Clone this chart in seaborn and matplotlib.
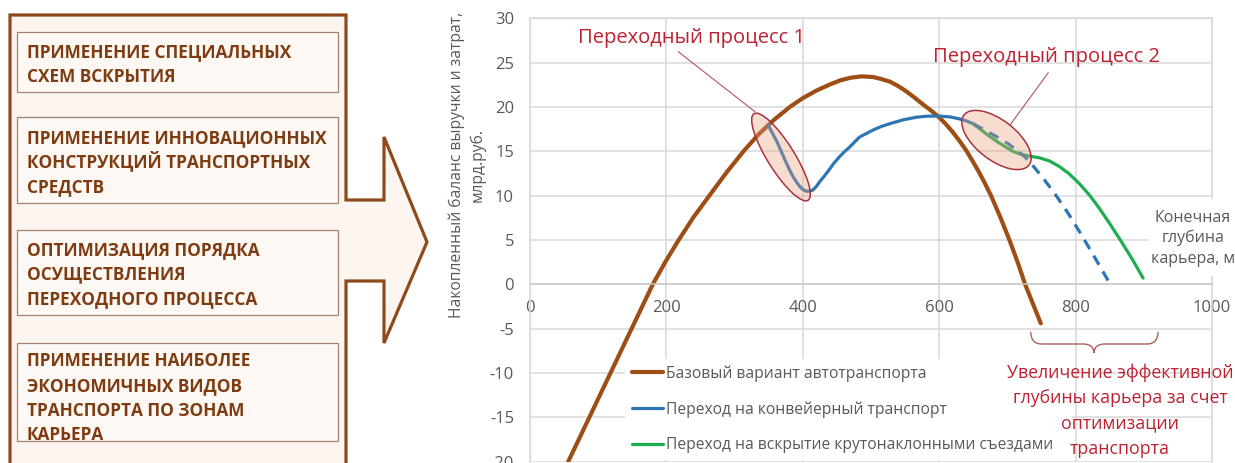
import matplotlib
matplotlib.use("Agg")
import matplotlib.pyplot as plt
import matplotlib.patches as mpatches
import matplotlib.transforms as mtransforms
from matplotlib.path import Path
from matplotlib.font_manager import FontProperties
import seaborn as sns
import pandas as pd

# ---------------- data ----------------
depth_base = [56, 87, 118, 149, 180, 199, 218, 240, 263, 288, 313, 335, 357, 381, 400,
              420, 440, 455, 470, 486, 503, 515, 528, 540, 552, 564, 576, 588, 599, 610,
              620, 630, 640, 649, 658, 667, 676, 690, 703, 715, 726, 738, 749]
balance_base = [-20.0, -15.0, -10.0, -5.0, 0.0, 2.6, 5.0, 7.6, 10.0, 12.6, 15.0, 16.9,
                18.5, 20.0, 21.0, 21.85, 22.55, 23.0, 23.3, 23.45, 23.38, 23.15, 22.85,
                22.35, 21.75, 21.05, 20.3, 19.6, 18.9, 18.05, 17.15, 16.15, 15.05, 13.9,
                12.7, 11.4, 10.0, 7.5, 5.0, 2.5, 0.0, -2.3, -4.4]

depth_conv = [349, 355, 362, 368, 374, 380, 386, 391, 396, 400, 405, 410, 415, 420, 425,
              431, 437, 445, 454, 461, 469, 476, 483, 493, 503, 515, 527, 547, 567, 584,
              601, 616, 630, 640, 650]
balance_conv = [18.0, 17.1, 16.1, 15.05, 14.0, 13.0, 12.1, 11.5, 11.0, 10.7, 10.5, 10.5,
                10.65, 11.05, 11.6, 12.15, 12.75, 13.6, 14.4, 14.95, 15.5, 16.05, 16.6,
                17.0, 17.4, 17.8, 18.1, 18.55, 18.85, 18.97, 18.97, 18.88, 18.65, 18.42,
                18.1]

depth_conv_cont = [650, 662, 675, 689, 702, 714, 724, 733, 742, 750, 761, 772, 790, 806,
                   823, 840, 849]
balance_conv_cont = [18.1, 17.6, 17.05, 16.45, 15.8, 15.1, 14.5, 13.8, 12.95, 12.2, 11.1,
                     9.95, 7.9, 5.9, 3.7, 1.45, 0.25]

depth_steep = [650, 660, 672, 684, 696, 708, 720, 733, 748, 762, 776, 790, 805, 820, 835,
               850, 866, 883, 899]
balance_steep = [18.1, 17.5, 16.8, 16.15, 15.55, 15.0, 14.65, 14.45, 14.25, 13.9, 13.3,
                 12.5, 11.4, 10.1, 8.55, 6.85, 4.95, 2.85, 0.7]

x_ticks = [0, 200, 400, 600, 800, 1000]
y_ticks = [-20, -15, -10, -5, 0, 5, 10, 15, 20, 25, 30]

legend_labels = ["Базовый вариант автотранспорта",
                 "Переход на конвейерный транспорт",
                 "Переход на вскрытие крутонаклонными съездами"]

y_label = "Накопленный баланс выручки и затрат,\nмлрд.руб."
x_label_lines = ["Конечная", "глубина", "карьера, м"]
process1_text = "Переходный процесс 1"
process2_text = "Переходный процесс 2"
increase_lines = ["Увеличение эффективной", "глубины карьера за счет",
                  "оптимизации", "транспорта"]

left_boxes = [["ПРИМЕНЕНИЕ СПЕЦИАЛЬНЫХ", "СХЕМ ВСКРЫТИЯ"],
              ["ПРИМЕНЕНИЕ ИННОВАЦИОННЫХ", "КОНСТРУКЦИЙ ТРАНСПОРТНЫХ", "СРЕДСТВ"],
              ["ОПТИМИЗАЦИЯ ПОРЯДКА", "ОСУЩЕСТВЛЕНИЯ", "ПЕРЕХОДНОГО ПРОЦЕССА"],
              ["ПРИМЕНЕНИЕ НАИБОЛЕЕ", "ЭКОНОМИЧНЫХ ВИДОВ", "ТРАНСПОРТА ПО ЗОНАМ",
               "КАРЬЕРА"]]

# ---------------- style ----------------
BROWN = "#9E4E14"
BLUE = "#2E75B6"
GREEN = "#1DAE50"
RED = "#BE2030"
GRAY_TXT = "#595959"
GRID = "#D9D9D9"
PANEL_EDGE = "#8E4A1B"
PANEL_FILL = "#FDF5EF"
BOX_EDGE = "#A58370"
BOX_TXT = "#7E3C12"
ANN = "#B0555E"

W, H, DPI = 1235, 463, 100
sns.set_theme(style="white")
FONT = ["Open Sans", "DejaVu Sans"]
plt.rcParams["font.family"] = FONT
plt.rcParams["axes.unicode_minus"] = False

fig = plt.figure(figsize=(W / DPI, H / DPI), dpi=DPI, facecolor="white")
renderer = fig.canvas.get_renderer()


def metrics(s, size, weight="normal"):
    fp = FontProperties(family=FONT, size=size, weight=weight)
    return renderer.get_text_width_height_descent(s, fp, ismath=False)


def fit(s, target_px, weight="normal"):
    return 20 * target_px / metrics(s, 20, weight)[0]


def fx(px):
    return px / W


def fy(py):
    return 1 - py / H


# main axes geometry in pixels
AX_L, AX_R, AX_T, AX_B = 530, 1212, 18.3, 461.7


def X(px):
    return (px - AX_L) / (AX_R - AX_L) * 1000


def Y(py):
    return 30 - (py - AX_T) / (AX_B - AX_T) * 50


# ---------------- left panel ----------------
axp = fig.add_axes([0, 0, 1, 1])
axp.set_zorder(-1)
axp.set_xlim(0, W)
axp.set_ylim(H, 0)
axp.axis("off")
outline = [(10, 15), (346, 15), (346, 200), (384, 200), (384, 137), (427, 242),
           (384, 343), (384, 281), (346, 281), (346, 490), (10, 490)]
axp.add_patch(mpatches.Polygon(outline, closed=True, fc=PANEL_FILL, ec=PANEL_EDGE,
                               lw=2.3, joinstyle="miter"))
box_tops = [32.3, 117.3, 230.0, 342.7]
box_bottoms = [91.7, 202.7, 315.0, 440.7]
first_baselines = [57.5, 143.0, 255.0, 366.5]
line_step = 24.6
fs_left = fit("ПРИМЕНЕНИЕ ИННОВАЦИОННЫХ", 301.5, "bold")
for lines, t, b, bl in zip(left_boxes, box_tops, box_bottoms, first_baselines):
    axp.add_patch(mpatches.Rectangle((17, t), 321, b - t, fc="#FEF8F4", ec=BOX_EDGE, lw=0.9))
    for i, s in enumerate(lines):
        axp.text(27, bl + i * line_step, s, fontsize=fs_left, fontweight="bold",
                 color=BOX_TXT, ha="left", va="baseline")

# ---------------- main chart ----------------
ax = fig.add_axes([fx(AX_L), fy(AX_B), (AX_R - AX_L) / W, (AX_B - AX_T) / H])
ax.set_facecolor("white")

df_base = pd.DataFrame({"depth": depth_base, "balance": balance_base})
df_conv = pd.DataFrame({"depth": depth_conv, "balance": balance_conv})
df_cont = pd.DataFrame({"depth": depth_conv_cont, "balance": balance_conv_cont})
df_steep = pd.DataFrame({"depth": depth_steep, "balance": balance_steep})

sns.lineplot(data=df_base, x="depth", y="balance", ax=ax, color=BROWN, linewidth=3.0,
             estimator=None, sort=False, legend=False)
h_base = ax.lines[-1]
sns.lineplot(data=df_conv, x="depth", y="balance", ax=ax, color=BLUE, linewidth=2.3,
             estimator=None, sort=False, legend=False)
h_conv = ax.lines[-1]
sns.lineplot(data=df_steep, x="depth", y="balance", ax=ax, color=GREEN, linewidth=2.3,
             estimator=None, sort=False, legend=False)
h_steep = ax.lines[-1]
sns.lineplot(data=df_cont, x="depth", y="balance", ax=ax, color=BLUE, linewidth=2.3,
             estimator=None, sort=False, legend=False, linestyle=(0, (3.3, 2.4)))
for ln in ax.lines:
    ln.set_solid_joinstyle("round")
    ln.set_solid_capstyle("round")

ax.set_xticks(x_ticks)
ax.set_yticks(y_ticks)
ax.set_xticklabels([str(v) for v in x_ticks])
ax.set_yticklabels([str(v) for v in y_ticks])
ax.grid(True, color=GRID, linewidth=1.1)
ax.set_axisbelow(True)
for sp in ax.spines.values():
    sp.set_color(GRID)
    sp.set_linewidth(1.1)
ax.spines["bottom"].set_position(("data", 0))
ax.spines["bottom"].set_color("#CACACA")
ax.tick_params(length=0, labelsize=12, labelcolor=GRAY_TXT, pad=11.5)
ax.set_xlabel("")

# y label (two lines, rotated)
fs_yl = fit("Накопленный баланс выручки и затрат,", 304)
w1, h1, d1 = metrics("Накопленный баланс выручки и затрат,", fs_yl)
_, hlp, dlp = metrics("lp", fs_yl)
ls_yl = (20.6 - max(d1, dlp)) / (hlp - dlp)
ax.set_ylabel(y_label, fontsize=fs_yl, color=GRAY_TXT, linespacing=ls_yl)
ax.yaxis.label.set_va("center")
ax.yaxis.set_label_coords((467 - AX_L) / (AX_R - AX_L), (AX_B - 165) / (AX_B - AX_T))

# legend
leg_fs = fit(legend_labels[2], 387)
fs_px = leg_fs * DPI / 72
_, hl_, dl_ = metrics(legend_labels[2], leg_fs)
_, hlp2, dlp2 = metrics("lp", leg_fs)
h_row = max(hl_, hlp2)
top_px = 373.3 - 6.7 - h_row / 2
leg = ax.legend(handles=[h_base, h_conv, h_steep], labels=legend_labels,
                loc="upper left",
                bbox_to_anchor=((625 - AX_L) / (AX_R - AX_L), (AX_B - top_px) / (AX_B - AX_T),
                                (1072 - 625) / (AX_R - AX_L), 0),
                mode="expand", borderaxespad=0, frameon=True, fancybox=False,
                framealpha=1, facecolor="white", edgecolor="none",
                prop=FontProperties(family=FONT, size=leg_fs), labelcolor=GRAY_TXT,
                handlelength=31.6 / fs_px, handletextpad=3.0 / fs_px,
                labelspacing=(35.5 - h_row) / fs_px, borderpad=6.7 / fs_px)
leg.get_frame().set_linewidth(0)

# ellipses around the transition processes
def add_ellipse(cx, cy, w, h, ang):
    tr = fig.dpi_scale_trans + mtransforms.ScaledTranslation(X(cx), Y(cy), ax.transData)
    ax.add_patch(mpatches.Ellipse((0, 0), w / DPI, h / DPI, angle=ang, transform=tr,
                                  fc=(0.90, 0.62, 0.48, 0.35), ec="#A8323C", lw=1.1,
                                  zorder=6, clip_on=False))


add_ellipse(781, 157, 102, 27, -58)
add_ellipse(996.5, 140, 82, 40, -37.6)

# leader lines
ax.plot([X(678.3), X(755)], [Y(51.7), Y(111.7)], color=ANN, lw=0.8, zorder=6, clip_on=False)
ax.plot([X(1048.3), X(1010)], [Y(72.7), Y(125)], color=ANN, lw=0.8, zorder=6, clip_on=False)

# brace under the depth gain
x0, x1, xm = X(1030.7), X(1158), X(1094)
yt, ym, yb = Y(331.7), Y(344), Y(353)
d = 16
verts = [(x0, yt), (x0, ym), (x0 + d, ym), (xm - d, ym), (xm, ym), (xm, yb),
         (xm, ym), (xm + d, ym), (x1 - d, ym), (x1, ym), (x1, yt)]
codes = [Path.MOVETO, Path.CURVE3, Path.CURVE3, Path.LINETO, Path.CURVE3, Path.CURVE3,
         Path.CURVE3, Path.CURVE3, Path.LINETO, Path.CURVE3, Path.CURVE3]
ax.add_patch(mpatches.PathPatch(Path(verts, codes), fill=False, ec="#B0605A", lw=1.0,
                                zorder=6, clip_on=False))

ax.set_xlim(0, 1000)
ax.set_ylim(-20, 30)

# annotation texts
fs_p1 = fit(process1_text, 227)
fig.text(fx(691.5), fy(43.3), process1_text, fontsize=fs_p1, color=RED, ha="center",
         va="baseline")
fs_p2 = fit(process2_text, 227)
fig.text(fx(1046.5), fy(61.7), process2_text, fontsize=fs_p2, color=RED, ha="center",
         va="baseline")

fs_inc = fit(increase_lines[0], 226)
for i, s in enumerate(increase_lines):
    fig.text(fx(1120), fy(378 + i * 25.2), s, fontsize=fs_inc, color=RED, ha="center",
             va="baseline")

# x axis title with white background
fig.add_artist(mpatches.Rectangle((fx(1148), fy(276)), 87 / W, 77 / H,
                                  transform=fig.transFigure, fc="white", ec="none",
                                  zorder=1))
fs_end = fit(x_label_lines[2], 84)
for i, s in enumerate(x_label_lines):
    fig.text(fx(1192.7), fy(221.7 + i * 20.8), s, fontsize=fs_end, color=GRAY_TXT,
             ha="center", va="baseline", zorder=3)

fig.savefig("out.png", dpi=DPI, facecolor="white")
